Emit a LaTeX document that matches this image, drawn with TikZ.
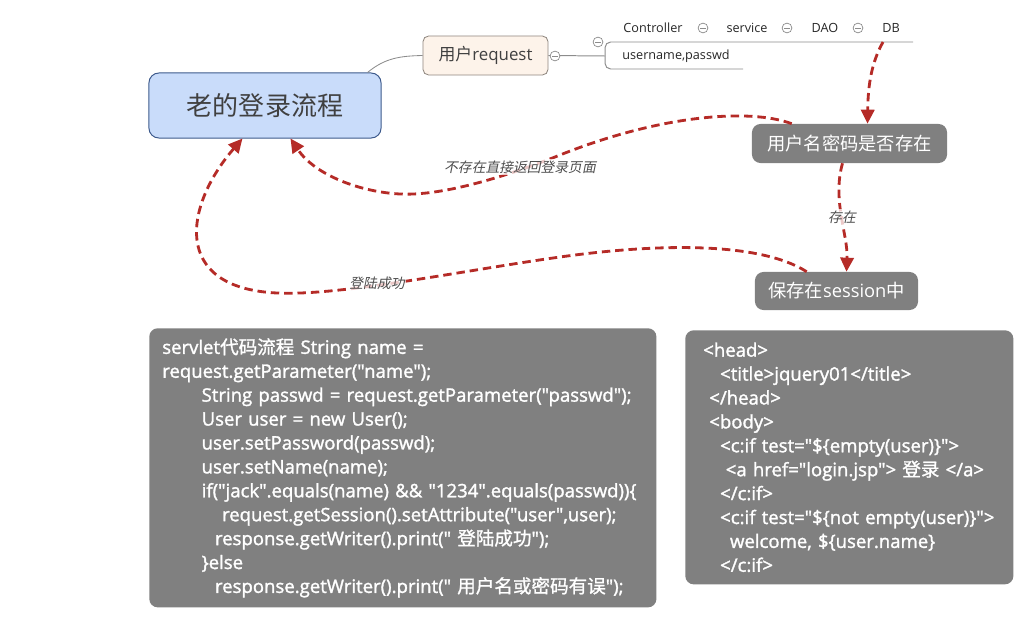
\documentclass[tikz,border=0pt]{standalone}
\usepackage{fontspec}
\setmainfont{Open Sans}
\newfontfamily\zhfont{Noto Sans CJK SC}
\newfontfamily\zhslant{Noto Sans CJK SC}[FakeSlant=0.2]
\newfontfamily\codefont{Open Sans}[FakeBold=1.6]
\newfontfamily\codezhfont{Noto Sans CJK SC}[FakeBold=1.2]
\newcommand{\zh}[1]{{\zhfont #1}}
\newcommand{\czh}[1]{{\codezhfont #1}}
\usetikzlibrary{arrows.meta,positioning,calc}
\definecolor{boxgray}{HTML}{808080}
\definecolor{titlefill}{HTML}{C9DCFA}
\definecolor{titleline}{HTML}{3D5A8C}
\definecolor{titletext}{HTML}{404040}
\definecolor{reqfill}{HTML}{FDF3EA}
\definecolor{reqline}{HTML}{8F877F}
\definecolor{flowred}{HTML}{B52B27}
\definecolor{branch}{HTML}{8C8C8C}
\definecolor{labelgray}{HTML}{4D4D4D}
\tikzset{
  maintopic/.style={draw=titleline,fill=titlefill,line width=0.7pt,rounded corners=7pt,
                    minimum width=5.8cm,minimum height=1.625cm,text=titletext,
                    font=\zhfont\fontsize{18.5}{22}\selectfont},
  reqtopic/.style={draw=reqline,fill=reqfill,line width=0.6pt,rounded corners=4pt,
                   minimum width=3.125cm,minimum height=0.975cm,text=titletext,
                   font=\fontsize{12}{14}\selectfont},
  subtext/.style={inner sep=1pt,text=black!85,font=\fontsize{9}{11}\selectfont},
  graybox/.style={fill=boxgray,rounded corners=6pt,text=white,
                  font=\zhfont\fontsize{13}{15}\selectfont},
  codebox/.style={fill=boxgray,rounded corners=6pt,text=white,align=left,
                  font=\codefont\fontsize{13.2}{17}\selectfont},
  fold/.style={circle,draw=branch,fill=white,line width=0.5pt,minimum size=7pt,
               inner sep=0pt,
               path picture={\draw[branch,line width=0.5pt]
                 ([xshift=-2pt]path picture bounding box.center) --
                 ([xshift=2pt]path picture bounding box.center);}},
  branchline/.style={draw=branch,line width=0.7pt},
  flowarr/.style={-{Triangle[length=10pt,width=9.5pt]},line width=2pt,
                  draw=flowred,dash pattern=on 6pt off 3.5pt},
  flowlabel/.style={fill=white,fill opacity=0.75,text opacity=1,inner sep=1pt,
                    text=labelgray,font=\zhslant\fontsize{9.8}{11}\selectfont}
}
\begin{document}
\begin{tikzpicture}[x=0.025cm,y=-0.025cm]
  \useasboundingbox (0,0) rectangle (1029,624);

  % mind map part
  \node[maintopic] (title) at (265,105.5) {老的登录流程};
  \node[reqtopic] (req) at (485.5,55.5) {\zh{用户}request};
  \node[subtext] (ctrl) at (653,28) {Controller};
  \node[subtext] (svc) at (747,28) {service};
  \node[subtext] (dao) at (825,28) {DAO};
  \node[subtext] (db) at (891,28) {DB};
  \node[subtext] (user) at (676,56) {username,passwd};
  \coordinate (brk) at (605,56);
  \coordinate (dbfoot) at (883,42);

  \draw[branchline,line width=0.6pt] ($(title.north east)+(-14,0)$)
    .. controls (385,58) and (400,56) .. (req.west);
  \draw[branchline] (req.east) -- (brk);
  \draw[branchline,rounded corners=4pt] (913,42) -- (605,42) -- (605,69) -- (743,69);

  \node[fold] (f1) at (555,56) {};
  \node[fold] (f2) at (598,42) {};
  \node[fold] (f3) at (703,28) {};
  \node[fold] (f4) at (787,28) {};
  \node[fold] (f5) at (858,28) {};

  % flow boxes
  \node[graybox,minimum width=4.875cm,minimum height=0.975cm] (exist) at (849.5,143.5)
    {用户名密码是否存在};
  \node[graybox,minimum width=4.075cm,minimum height=0.95cm] (sess) at (836.5,291)
    {保存在{\fontspec{Open Sans}session}中};

  % red dashed arrows
  \draw[flowarr] (dbfoot) .. controls (870,65) and (868,90) .. ($(exist.north)+(18,0)$);
  \draw[flowarr] ($(exist.north west)+(40,0)$)
    .. controls (750,108) and (660,115) .. (560,155)
    .. controls (500,179) and (440,196) .. (400,194)
    .. controls (360,192) and (315,175) .. ($(title.south west)+(142,0)$);
  \draw[flowarr] ($(exist.south)+(-7,0)$)
    .. controls (832,200) and (848,235) .. ($(sess.north)+(10,0)$);
  \draw[flowarr] ($(sess.north west)+(52,0)$)
    .. controls (760,242) and (660,243) .. (560,257)
    .. controls (460,271) and (340,296) .. (277,293)
    .. controls (170,288) and (185,205) .. ($(title.south west)+(94,0)$);

  \node[flowlabel] (nolabel) at (520,167) {不存在直接返回登录页面};
  \node[flowlabel] (yeslabel) at (842,217) {存在};
  \node[flowlabel] (oklabel) at (377,283) {登陆成功};

  % code boxes
  \node[codebox,anchor=north west,inner xsep=0.325cm,text width=12.025cm,
        minimum height=6.975cm] (servlet) at (149,328)
    {servlet\czh{代码流程} String name =\\
     request.getParameter("name");\\
     \hspace*{28pt}String passwd = request.getParameter("passwd");\\
     \hspace*{28pt}User user = new User();\\
     \hspace*{28pt}user.setPassword(passwd);\\
     \hspace*{28pt}user.setName(name);\\
     \hspace*{28pt}if("jack".equals(name) \&\& "1234".equals(passwd))\{\\
     \hspace*{42.5pt}request.getSession().setAttribute("user",user);\\
     \hspace*{37.5pt}response.getWriter().print(" \czh{登陆成功}");\\
     \hspace*{28pt}\}else\\
     \hspace*{37.5pt}response.getWriter().print(" \czh{用户名或密码有误}");};
  \node[codebox,anchor=north west,inner xsep=0.45cm,text width=7.3cm,
        minimum height=6.35cm] (jsp) at (685,330)
    {<head>\\
     \hspace*{12pt}<title>jquery01</title>\\
     \hspace*{4.3pt}</head>\\
     \hspace*{4.3pt}<body>\\
     \hspace*{12pt}<c:if test="\$\{empty(user)\}">\\
     \hspace*{16pt}<a href="login.jsp"> \czh{登录} </a>\\
     \hspace*{12pt}</c:if>\\
     \hspace*{12pt}<c:if test="\$\{not empty(user)\}">\\
     \hspace*{19pt}welcome, \$\{user.name\}\\
     \hspace*{12pt}</c:if>};
\end{tikzpicture}
\end{document}
